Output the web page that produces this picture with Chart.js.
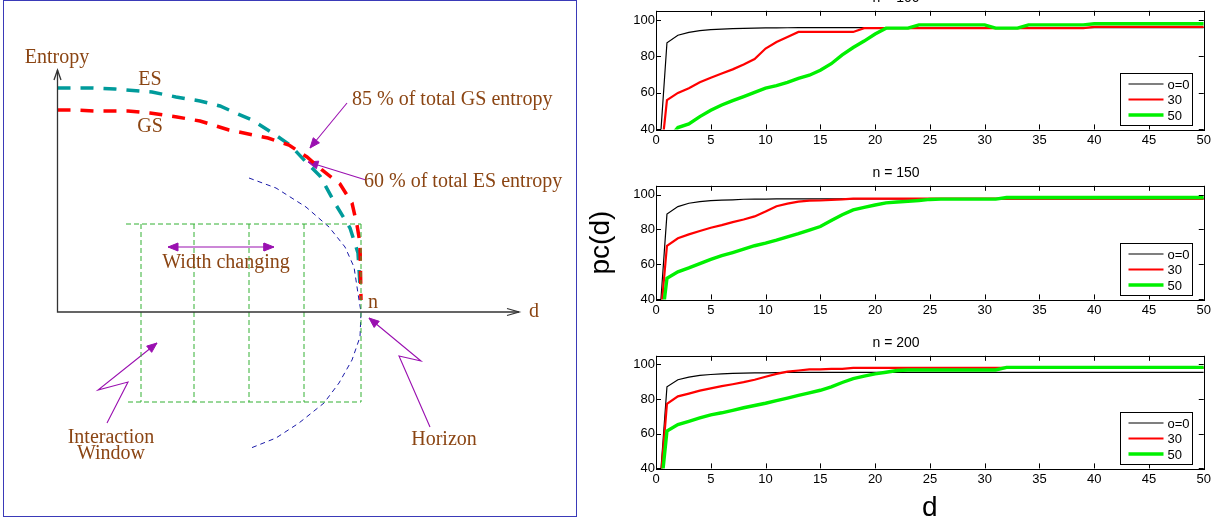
<!DOCTYPE html>
<html>
<head>
<meta charset="utf-8">
<script src="https://cdn.jsdelivr.net/npm/chart.js@4.4.1/dist/chart.umd.min.js"></script>
<style>
  html, body { margin: 0; padding: 0; background: #fff; overflow: hidden; width: 1214px; height: 523px; position: relative; }
  canvas { position: absolute; }
  #frame { position: absolute; left: 3px; top: 0; width: 572px; height: 515px; border: 1px solid #3a3ab8; }
</style>
</head>
<body>
<div id="frame"></div>
<canvas id="diagram" width="588" height="523" style="left:0;top:0"></canvas>
<canvas id="c100" width="626" height="165" style="left:588px;top:-12px"></canvas>
<canvas id="c150" width="626" height="160" style="left:588px;top:163px"></canvas>
<canvas id="c200" width="626" height="195" style="left:588px;top:333px"></canvas>
<script>
// ---------- right side: pc(d) curves ----------
const dValues = [0, 1, 2, 3, 4, 5, 6, 7, 8, 9, 10, 11, 12, 13, 14, 15, 16, 17, 18, 19, 20,
  21, 22, 23, 24, 25, 26, 27, 28, 29, 30, 31, 32, 33, 34, 35, 36, 37, 38, 39, 40,
  41, 42, 43, 44, 45, 46, 47, 48, 49, 50];
const xTicks = [0, 5, 10, 15, 20, 25, 30, 35, 40, 45, 50];
const yTicks = [40, 60, 80, 100];
const seriesLabels = ['o=0', '30', '50'];
const seriesColors = ['#000000', '#ff0000', '#00f000'];
const seriesWidths = [1.2, 2.2, 3.4];

// n = 100
const o0_100 = [0, 87.5, 91.6, 93.2, 94.1, 94.7, 95.0, 95.2, 95.4, 95.5, 95.6, 95.6, 95.7, 95.8, 95.8, 95.8, 95.8, 95.8, 95.8, 95.8, 95.8,
  95.8, 95.8, 95.8, 95.8, 95.8, 95.8, 95.8, 95.8, 95.8, 95.8, 95.8, 95.8, 95.8, 95.8, 95.8, 95.8, 95.8, 95.8, 95.8, 95.8,
  95.8, 95.8, 95.8, 95.8, 95.8, 95.8, 95.8, 95.8, 95.8, 95.8];
const o30_100 = [0, 56, 60, 62.6, 65.8, 68.3, 70.6, 72.9, 75.6, 78.6, 84.3, 87.9, 90.7, 93.4, 93.4, 93.4, 93.4, 93.4, 93.4, 95.5, 95.5,
  95.5, 95.5, 95.5, 95.5, 95.5, 95.5, 95.5, 95.5, 95.5, 95.5, 95.5, 95.5, 95.5, 95.5, 95.5, 95.5, 95.5, 95.5, 95.5, 96.2,
  96.2, 96.2, 96.2, 96.2, 96.2, 96.2, 96.2, 96.2, 96.2, 96.2];
const o50_100 = [0, 34, 41, 43, 47, 50.5, 53.4, 55.8, 58, 60.3, 62.6, 64, 65.8, 68, 69.7, 72.4, 76, 80.8, 84.9, 88.4, 92.3,
  95.5, 95.5, 95.5, 97.3, 97.3, 97.3, 97.3, 97.3, 97.3, 97.3, 95.5, 95.5, 95.5, 97.3, 97.3, 97.3, 97.3, 97.3, 97.3, 97.9,
  97.9, 97.9, 97.9, 97.9, 97.9, 97.9, 97.9, 97.9, 97.9, 97.9];

// n = 150
const o0_150 = [0, 88.8, 93.1, 95.0, 95.9, 96.5, 96.8, 97.0, 97.3, 97.4, 97.4, 97.5, 97.5, 97.5, 97.5, 97.5, 97.5, 97.5, 97.5, 97.5, 97.5,
  97.5, 97.5, 97.5, 97.5, 97.5, 97.5, 97.5, 97.5, 97.5, 97.5, 97.5, 97.5, 97.5, 97.5, 97.5, 97.5, 97.5, 97.5, 97.5, 97.5,
  97.5, 97.5, 97.5, 97.5, 97.5, 97.5, 97.5, 97.5, 97.5, 97.5];
const o30_150 = [0, 70.7, 75, 77.2, 79.1, 81, 82.5, 84.2, 85.7, 87.5, 90.3, 93.3, 94.8, 95.9, 96.5, 96.6, 97.0, 97.2, 97.7, 97.7, 97.7,
  97.7, 97.7, 97.7, 97.7, 97.7, 97.7, 97.7, 97.7, 97.7, 97.7, 97.7, 97.7, 97.7, 97.7, 97.7, 97.7, 97.7, 97.7, 97.7, 97.7,
  97.7, 97.7, 97.7, 97.7, 97.7, 97.7, 97.7, 97.7, 97.7, 97.7];
const o50_150 = [0, 52.1, 55.8, 58, 60.5, 62.9, 65, 66.8, 68.7, 70.7, 72.2, 73.9, 75.8, 77.6, 79.7, 81.7, 85.1, 88.4, 91.2, 92.7, 94,
  95.2, 95.7, 96.1, 96.6, 97.2, 97.4, 97.4, 97.4, 97.4, 97.4, 97.4, 98.3, 98.3, 98.3, 98.3, 98.3, 98.3, 98.3, 98.3, 98.3,
  98.3, 98.3, 98.3, 98.3, 98.3, 98.3, 98.3, 98.3, 98.3, 98.3];

// n = 200
const o0_200 = [0, 87.1, 91.2, 92.7, 93.7, 94.2, 94.6, 94.8, 95.0, 95.1, 95.2, 95.3, 95.4, 95.4, 95.4, 95.4, 95.4, 95.4, 95.4, 95.4, 95.4,
  95.4, 95.4, 95.4, 95.4, 95.4, 95.4, 95.4, 95.4, 95.4, 95.4, 95.4, 95.4, 95.4, 95.4, 95.4, 95.4, 95.4, 95.4, 95.4, 95.4,
  95.4, 95.4, 95.4, 95.4, 95.4, 95.4, 95.4, 95.4, 95.4, 95.4];
const o30_200 = [0, 77.3, 81.6, 83.2, 84.9, 86.2, 87.5, 88.6, 89.8, 91.2, 92.9, 94.6, 95.9, 96.5, 97.2, 97.2, 97.4, 97.5, 98, 98, 98,
  98, 98, 98, 98, 98, 98, 98, 98, 98, 98, 98, 98, 98, 98, 98, 98, 98, 98, 98, 98,
  98, 98, 98, 98, 98, 98, 98, 98, 98, 98];
const o50_200 = [0, 61.6, 65.3, 67.2, 69.1, 70.9, 72.1, 73.5, 75, 76.3, 77.6, 79.1, 80.6, 82.1, 83.6, 85.1, 87.1, 89.6, 91.8, 93.3, 94.6,
  95.5, 96.5, 96.8, 96.8, 96.8, 96.8, 96.8, 96.8, 96.8, 96.8, 96.8, 98.3, 98.3, 98.3, 98.3, 98.3, 98.3, 98.3, 98.3, 98.3,
  98.3, 98.3, 98.3, 98.3, 98.3, 98.3, 98.3, 98.3, 98.3, 98.3];

const sansFont = '"Liberation Sans", Arial, Helvetica, sans-serif';
const serifFont = '"Liberation Serif", "Times New Roman", serif';

// box round the plot area plus the little inward tick marks
const matlabFrame = {
  id: 'matlabFrame',
  afterDraw(chart) {
    const { ctx, chartArea: a, scales } = chart;
    ctx.save();
    ctx.strokeStyle = '#000';
    ctx.lineWidth = 1;
    ctx.strokeRect(Math.round(a.left) + 0.5, Math.round(a.top) + 0.5, Math.round(a.width), Math.round(a.height));
    ctx.beginPath();
    scales.x.ticks.forEach(t => {
      const px = Math.round(scales.x.getPixelForValue(t.value)) + 0.5;
      ctx.moveTo(px, a.bottom); ctx.lineTo(px, a.bottom - 5);
      ctx.moveTo(px, a.top); ctx.lineTo(px, a.top + 5);
    });
    scales.y.ticks.forEach(t => {
      const py = Math.round(scales.y.getPixelForValue(t.value)) + 0.5;
      ctx.moveTo(a.left, py); ctx.lineTo(a.left + 5, py);
      ctx.moveTo(a.right, py); ctx.lineTo(a.right - 5, py);
    });
    ctx.stroke();
    ctx.restore();
  }
};

// legend box in the lower right corner of the plot
const cornerLegend = {
  id: 'cornerLegend',
  afterDraw(chart) {
    const { ctx, chartArea: a } = chart;
    const w = 72, h = 52;
    const x0 = Math.round(a.right - 12 - w) + 0.5;
    const y0 = Math.round(a.bottom - 4 - h) + 0.5;
    ctx.save();
    ctx.fillStyle = '#fff';
    ctx.fillRect(x0, y0, w, h);
    ctx.strokeStyle = '#000';
    ctx.lineWidth = 1;
    ctx.strokeRect(x0, y0, w, h);
    ctx.font = '13px ' + sansFont;
    ctx.textBaseline = 'middle';
    chart.data.datasets.forEach((ds, i) => {
      const y = y0 + 10.5 + i * 15.5;
      ctx.strokeStyle = ds.borderColor;
      ctx.lineWidth = ds.borderWidth;
      ctx.beginPath();
      ctx.moveTo(x0 + 8, y);
      ctx.lineTo(x0 + 43, y);
      ctx.stroke();
      ctx.fillStyle = '#000';
      ctx.fillText(ds.label, x0 + 47, y + 1);
    });
    ctx.restore();
  }
};

function pcChart(id, title, series, opts) {
  const datasets = series.map((vals, i) => ({
    label: seriesLabels[i],
    data: dValues.map((d, k) => ({ x: d, y: vals[k] })),
    borderColor: seriesColors[i],
    borderWidth: seriesWidths[i],
    pointRadius: 0,
    tension: 0,
    order: 3 - i
  }));
  return new Chart(document.getElementById(id), {
    type: 'line',
    data: { datasets },
    options: {
      responsive: false,
      animation: false,
      layout: { padding: { top: 2, bottom: 2, left: 0, right: 10 } },
      plugins: {
        legend: { display: false },
        tooltip: { enabled: false },
        title: {
          display: true, text: title, color: '#000',
          font: { family: sansFont, size: 14, weight: 'normal', lineHeight: 1.2 },
          padding: { top: 0, bottom: 4 }
        }
      },
      scales: {
        x: {
          type: 'linear', min: 0, max: 50,
          grid: { display: false, drawTicks: false },
          border: { display: false },
          afterBuildTicks: s => { s.ticks = xTicks.map(v => ({ value: v })); },
          ticks: { color: '#000', maxRotation: 0, autoSkip: false, padding: 3,
                   font: { family: sansFont, size: 13, lineHeight: 1.2 } },
          title: opts.xTitle ? { display: true, text: opts.xTitle, color: '#000',
                   font: { family: sansFont, size: 28, lineHeight: 1 }, padding: { top: 4, bottom: 4 } } : { display: false }
        },
        y: {
          min: 40, max: 105,
          grid: { display: false, drawTicks: false },
          border: { display: false },
          afterBuildTicks: s => { s.ticks = yTicks.map(v => ({ value: v })); },
          afterFit: s => { s.width = 68; },
          ticks: { color: '#000', padding: 1, font: { family: sansFont, size: 13, lineHeight: 1.2 } },
          title: opts.yTitle ? { display: true, text: opts.yTitle, color: '#000',
                   font: { family: sansFont, size: 28, lineHeight: 0.93 }, padding: { top: 0, bottom: 0 } } : { display: false }
        }
      }
    },
    plugins: [matlabFrame, cornerLegend]
  });
}

pcChart('c100', 'n = 100', [o0_100, o30_100, o50_100], {});
pcChart('c150', 'n = 150', [o0_150, o30_150, o50_150], { yTitle: 'pc(d)' });
pcChart('c200', 'n = 200', [o0_200, o30_200, o50_200], { xTitle: 'd' });

// ---------- left side: entropy / horizon sketch (origin at axis corner, units = px) ----------
const entropyAxis = [[0, 242], [0, 0], [461.5, 0]];
const esCurve = [[0, 224], [17.5, 224], [34.5, 224], [57.5, 223], [94.5, 220], [118.5, 215], [142.5, 211],
  [162.5, 206], [180.5, 198], [194.5, 192], [213.5, 180], [232.5, 167], [248.5, 150], [262.5, 136],
  [278.5, 107], [292.5, 84], [300.5, 59], [302.5, 27]];
const gsCurve = [[0, 202], [16.5, 202], [37.5, 201], [70.5, 201], [92.5, 199], [119.5, 195], [142.5, 191],
  [171.5, 182], [210.5, 174], [231.5, 167], [249.5, 155], [264.5, 142], [282.5, 128], [294.5, 109],
  [299.5, 87], [302.5, 69], [303.5, 12]];
const horizonArc = [[191.5, 134], [218.5, 124], [248.5, 105], [271.5, 85], [287.5, 65], [296.5, 45],
  [301.5, 12], [303.5, 0], [302.5, -25], [294.5, -48], [281.5, -71], [266.5, -91], [241.5, -111],
  [218.5, -126], [193.5, -136]];
const windowTop = 88, windowBottom = -90;
const windowEdges = [83.5, 136.5, 191.5, 246.5, 303.5];
const windowTopSpan = [68.5, 303.5], windowBottomSpan = [70.5, 303.5];
const widthArrow = [[110.5, 65], [216.5, 65]];
const gsNoteArrow = [[289.5, 209], [252.5, 164]];
const esNoteArrow = [[308.5, 132], [250.5, 150]];
const interactionArrow = [[49.5, -111], [70.5, -70], [40.5, -78], [99.5, -31]];
const horizonArrow = [[372.5, -115], [341.5, -44], [363.5, -49], [311.5, -6]];
const sketchLabels = [
  { text: 'Entropy', x: -0.5, y: 254, align: 'center' },
  { text: 'ES', x: 92.5, y: 232, align: 'center' },
  { text: 'GS', x: 92.5, y: 185, align: 'center' },
  { text: '85 % of total GS entropy', x: 294.5, y: 212, align: 'left' },
  { text: '60 % of total ES entropy', x: 306.5, y: 130, align: 'left' },
  { text: 'Width changing', x: 168.5, y: 49, align: 'center' },
  { text: 'n', x: 315.5, y: 9, align: 'center' },
  { text: 'd', x: 476.5, y: 0, align: 'center' },
  { text: 'Interaction', x: 53.5, y: -126, align: 'center' },
  { text: 'Window', x: 53.5, y: -142, align: 'center' },
  { text: 'Horizon', x: 386.5, y: -128, align: 'center' }
];

const purple = '#9a10b0';
const brown = '#8b4513';

const pts = arr => arr.map(p => ({ x: p[0], y: p[1] }));
function arrowHead(from, to, len, half) {
  const dx = to[0] - from[0], dy = to[1] - from[1];
  const l = Math.hypot(dx, dy);
  const ux = dx / l, uy = dy / l;
  const bx = to[0] - ux * len, by = to[1] - uy * len;
  return [to, [bx - uy * half, by + ux * half], [bx + uy * half, by - ux * half], to];
}
function openHead(from, to, len, half) {
  const h = arrowHead(from, to, len, half);
  return [h[1], to, h[2]];
}
const lineSet = (arr, color, width, dash) => ({
  data: pts(arr), showLine: true, borderColor: color, borderWidth: width,
  borderDash: dash || [], pointRadius: 0, fill: false, tension: 0
});
const headSet = (arr, color) => ({
  data: pts(arr), showLine: true, borderColor: color, backgroundColor: color, borderWidth: 1,
  pointRadius: 0, fill: 'shape', tension: 0
});

const sketchSets = [];
sketchSets.push(lineSet(entropyAxis, '#333', 1.3));
sketchSets.push(lineSet(openHead([0, 0], entropyAxis[0], 10, 3.5), '#333', 1.3));
sketchSets.push(lineSet(openHead([0, 0], entropyAxis[2], 12, 3.5), '#333', 1.3));
sketchSets.push(lineSet([[windowTopSpan[0], windowTop], [windowTopSpan[1], windowTop]], '#33b033', 1, [5, 3]));
sketchSets.push(lineSet([[windowBottomSpan[0], windowBottom], [windowBottomSpan[1], windowBottom]], '#33b033', 1, [5, 3]));
windowEdges.forEach(x => sketchSets.push(lineSet([[x, windowTop], [x, windowBottom]], '#33b033', 1, [5, 3])));
sketchSets.push(lineSet(horizonArc, '#1a1aa8', 1, [5, 4]));
sketchSets.push(lineSet(gsCurve, '#ff0000', 3.5, [13, 10]));
sketchSets.push(lineSet(esCurve, '#009b9b', 3.5, [13, 10]));
[widthArrow, gsNoteArrow, esNoteArrow, interactionArrow, horizonArrow].forEach(a => {
  sketchSets.push(lineSet(a, purple, 1.1));
  sketchSets.push(headSet(arrowHead(a[a.length - 2], a[a.length - 1], 10, 4), purple));
});
sketchSets.push(headSet(arrowHead(widthArrow[1], widthArrow[0], 10, 4), purple));

const sketchText = {
  id: 'sketchText',
  afterDatasetsDraw(chart) {
    const { ctx, scales } = chart;
    ctx.save();
    ctx.font = '20px ' + serifFont;
    ctx.fillStyle = brown;
    ctx.textBaseline = 'middle';
    sketchLabels.forEach(l => {
      ctx.textAlign = l.align;
      ctx.fillText(l.text, scales.x.getPixelForValue(l.x), scales.y.getPixelForValue(l.y));
    });
    ctx.restore();
  }
};

new Chart(document.getElementById('diagram'), {
  type: 'scatter',
  data: { datasets: sketchSets },
  options: {
    responsive: false,
    animation: false,
    layout: { padding: 0 },
    plugins: { legend: { display: false }, tooltip: { enabled: false }, title: { display: false } },
    scales: {
      x: { type: 'linear', display: false, min: -57.5, max: 530.5 },
      y: { type: 'linear', display: false, min: -211, max: 312 }
    }
  },
  plugins: [sketchText]
});
</script>
</body>
</html>
